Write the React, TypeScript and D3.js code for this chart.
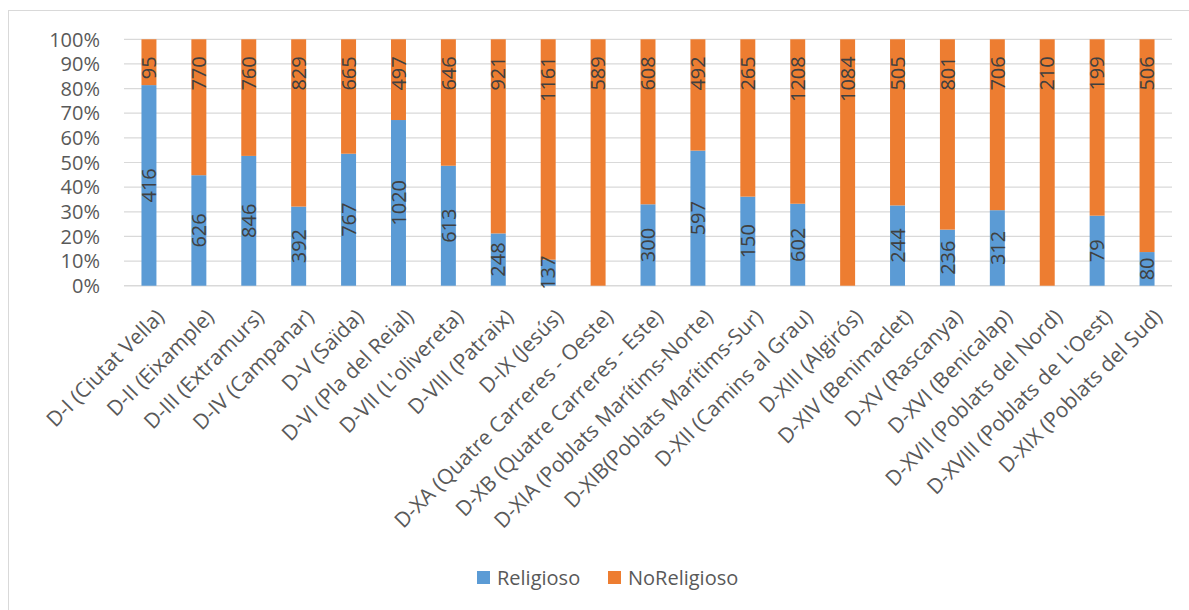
import React from "react";
import * as d3 from "d3";

// Districts of València and counts per group
const districts = [
  "D-I (Ciutat Vella)",
  "D-II (Eixample)",
  "D-III (Extramurs)",
  "D-IV (Campanar)",
  "D-V (Saïda)",
  "D-VI (Pla del Reial)",
  "D-VII (L'olivereta)",
  "D-VIII (Patraix)",
  "D-IX (Jesús)",
  "D-XA (Quatre Carreres - Oeste)",
  "D-XB (Quatre Carreres - Este)",
  "D-XIA (Poblats Marítims-Norte)",
  "D-XIB(Poblats Marítims-Sur)",
  "D-XII (Camins al Grau)",
  "D-XIII (Algirós)",
  "D-XIV (Benimaclet)",
  "D-XV (Rascanya)",
  "D-XVI (Benicalap)",
  "D-XVII (Poblats del Nord)",
  "D-XVIII (Poblats de L'Oest)",
  "D-XIX (Poblats del Sud)",
];

const religioso = [416, 626, 846, 392, 767, 1020, 613, 248, 137, 0, 300, 597, 150, 602, 0, 244, 236, 312, 0, 79, 80];
const noReligioso = [95, 770, 760, 829, 665, 497, 646, 921, 1161, 589, 608, 492, 265, 1208, 1084, 505, 801, 706, 210, 199, 506];

const yTicks = [0, 0.1, 0.2, 0.3, 0.4, 0.5, 0.6, 0.7, 0.8, 0.9, 1];

const seriesNames = ["Religioso", "NoReligioso"];
const seriesColors = ["#5B9BD5", "#ED7D31"];

const W = 1189;
const H = 610;
const FONT = "'Open Sans', 'Liberation Sans', sans-serif";

export default function App() {
  const x = d3.scaleBand<string>().domain(districts).range([124, 1172]).paddingInner(0.7).paddingOuter(0.35);
  const y = d3.scaleLinear().domain([0, 1]).range([285.7, 39.3]);
  const pct = d3.format(".0%");

  const rows = districts.map((d, i) => {
    const total = religioso[i] + noReligioso[i];
    return { d, r: religioso[i], n: noReligioso[i], total, share: religioso[i] / total };
  });

  const bw = x.bandwidth();

  return (
    <svg
      width={W}
      height={H}
      style={{ position: "absolute", left: 0, top: 0, background: "#fff" }}
      fontFamily={FONT}
    >
      {/* chart frame */}
      <rect x={8.5} y={10.5} width={W + 10} height={H + 10} fill="#fff" stroke="#d9d9d9" strokeWidth={1} />

      {/* gridlines and y labels */}
      {yTicks.map((t) => (
        <g key={t}>
          <line x1={124} x2={1172} y1={y(t)} y2={y(t)} stroke="#d9d9d9" strokeWidth={t === 0 ? 1.5 : 1.2} />
          <text x={100} y={y(t)} dy="0.36em" textAnchor="end" fontSize={20} fill="#595959">
            {pct(t)}
          </text>
        </g>
      ))}

      {/* stacked 100% bars */}
      {rows.map((row) => {
        const x0 = x(row.d)!;
        const cx = x0 + bw / 2;
        const yR = y(row.share);
        return (
          <g key={row.d}>
            {row.r > 0 && (
              <rect x={x0} y={yR} width={bw} height={y(0) - yR} fill={seriesColors[0]} />
            )}
            {row.n > 0 && (
              <rect x={x0} y={y(1)} width={bw} height={yR - y(1)} fill={seriesColors[1]} />
            )}
            {row.r > 0 && (
              <text
                transform={`translate(${cx},${(yR + y(0)) / 2}) rotate(-90)`}
                dy="0.36em"
                textAnchor="middle"
                fontSize={20}
                fill="#404040"
              >
                {row.r}
              </text>
            )}
            {row.n > 0 && (
              <text
                transform={`translate(${cx},${y(1) + 17}) rotate(-90)`}
                dy="0.36em"
                textAnchor="end"
                fontSize={20}
                fill="#404040"
              >
                {row.n}
              </text>
            )}
            <text
              transform={`translate(${cx + 11},${y(0) + 27}) rotate(-45)`}
              dy="0.36em"
              textAnchor="end"
              fontSize={21}
              fill="#595959"
            >
              {row.d}
            </text>
          </g>
        );
      })}

      {/* legend */}
      {seriesNames.map((s, i) => {
        const lx = [477, 608][i];
        return (
          <g key={s}>
            <rect x={lx} y={571} width={13} height={13} fill={seriesColors[i]} />
            <text x={lx + 20} y={577.5} dy="0.36em" fontSize={20} fill="#595959">
              {s}
            </text>
          </g>
        );
      })}
    </svg>
  );
}
